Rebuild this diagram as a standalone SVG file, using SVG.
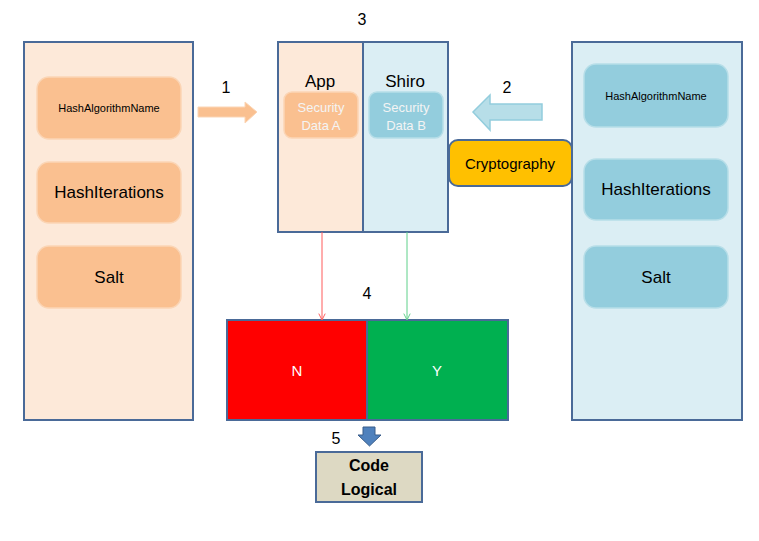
<svg xmlns="http://www.w3.org/2000/svg" width="759" height="541" viewBox="0 0 759 541">
<defs>
<style>
text{font-family:"Liberation Sans",Arial,sans-serif;text-anchor:middle;fill:#000}
.panel{stroke:#4A6A98;stroke-width:2}
.peach{fill:#FDE9D9}
.blue{fill:#DBEEF4}
.io{fill:#FAC090;stroke:#FBD5B5;stroke-width:1.5}
.ib{fill:#93CDDD;stroke:#B7DEE8;stroke-width:1.5}
.num{font-size:16px}
.sec{font-size:13px;fill:#F4F4F4}
</style>
<marker id="ar" viewBox="0 0 10 10" refX="9" refY="5" markerWidth="8" markerHeight="8" orient="auto" markerUnits="userSpaceOnUse">
<path d="M1,1 L9,5 L1,9" fill="none" stroke="context-stroke" stroke-width="1.2"/>
</marker>
</defs>
<rect width="759" height="541" fill="#fff"/>

<g id="left-panel">
<rect class="panel peach" x="24" y="42" width="169" height="378"/>
<rect class="io" x="37" y="77" width="144" height="62" rx="12"/>
<text x="109" y="112" font-size="11">HashAlgorithmName</text>
<rect class="io" x="37" y="162" width="144" height="61" rx="12"/>
<text x="109" y="198" font-size="17">HashIterations</text>
<rect class="io" x="37" y="246" width="144" height="62" rx="12"/>
<text x="109" y="283" font-size="17">Salt</text>
</g>

<g id="right-panel">
<rect class="panel blue" x="572" y="42" width="170" height="378"/>
<rect class="ib" x="584" y="64" width="144" height="63" rx="12"/>
<text x="656" y="100" font-size="11">HashAlgorithmName</text>
<rect class="ib" x="584" y="159" width="144" height="61" rx="12"/>
<text x="656" y="195" font-size="17">HashIterations</text>
<rect class="ib" x="584" y="246" width="144" height="62" rx="12"/>
<text x="656" y="283" font-size="17">Salt</text>
</g>

<g id="app">
<rect class="panel peach" x="278" y="42" width="85" height="190"/>
<text x="320" y="87" font-size="17">App</text>
<rect class="io" x="284" y="92" width="74" height="46" rx="8"/>
<text class="sec" x="321" y="112">Security</text>
<text class="sec" x="321" y="130">Data A</text>
</g>

<g id="shiro">
<rect class="panel blue" x="363" y="42" width="85" height="190"/>
<text x="405" y="87" font-size="17">Shiro</text>
<rect class="ib" x="369" y="92" width="74" height="46" rx="8"/>
<text class="sec" x="406" y="112">Security</text>
<text class="sec" x="406" y="130">Data B</text>
</g>

<g id="cryptography">
<rect x="449" y="140" width="123" height="46" rx="9" fill="#FFC000" stroke="#4A6A98" stroke-width="2"/>
<text x="510" y="169" font-size="15">Cryptography</text>
</g>

<g id="decision">
<rect x="227" y="320" width="140" height="100" fill="#FF0000" stroke="#4A6A98" stroke-width="2"/>
<rect x="367" y="320" width="141" height="100" fill="#00B050" stroke="#4A6A98" stroke-width="2"/>
<text x="297" y="376" font-size="15" style="fill:#fff">N</text>
<text x="437" y="376" font-size="15" style="fill:#fff">Y</text>
</g>

<g id="code-logical">
<rect x="316" y="452" width="106" height="50" fill="#DDD9C3" stroke="#4A6A98" stroke-width="2"/>
<text x="369" y="471" font-size="16" font-weight="bold">Code</text>
<text x="369" y="495" font-size="16" font-weight="bold">Logical</text>
</g>

<g id="connectors">
<path d="M198,107 H245 V102 L257,112 L245,123 V117 H198 Z" fill="#FAC090" stroke="#FBD5B5" stroke-width="1"/>
<path d="M542,104 H490 V95 L473,112 L490,130 V120 H542 Z" fill="#B7DEE8" stroke="#93CDDD" stroke-width="1.5"/>
<line x1="322" y1="232" x2="322" y2="320" stroke="#FF5B5B" stroke-width="1" marker-end="url(#ar)"/>
<line x1="407" y1="232" x2="407" y2="320" stroke="#5FD08A" stroke-width="1" marker-end="url(#ar)"/>
<path d="M363,427 H375 V435 H381 L369.5,446 L358,435 H363 Z" fill="#4F81BD" stroke="#385D8A" stroke-width="1"/>
</g>

<g id="labels">
<text class="num" x="226" y="93">1</text>
<text class="num" x="507" y="93">2</text>
<text class="num" x="362" y="25">3</text>
<text class="num" x="367" y="299">4</text>
<text class="num" x="336" y="444">5</text>
</g>
</svg>
